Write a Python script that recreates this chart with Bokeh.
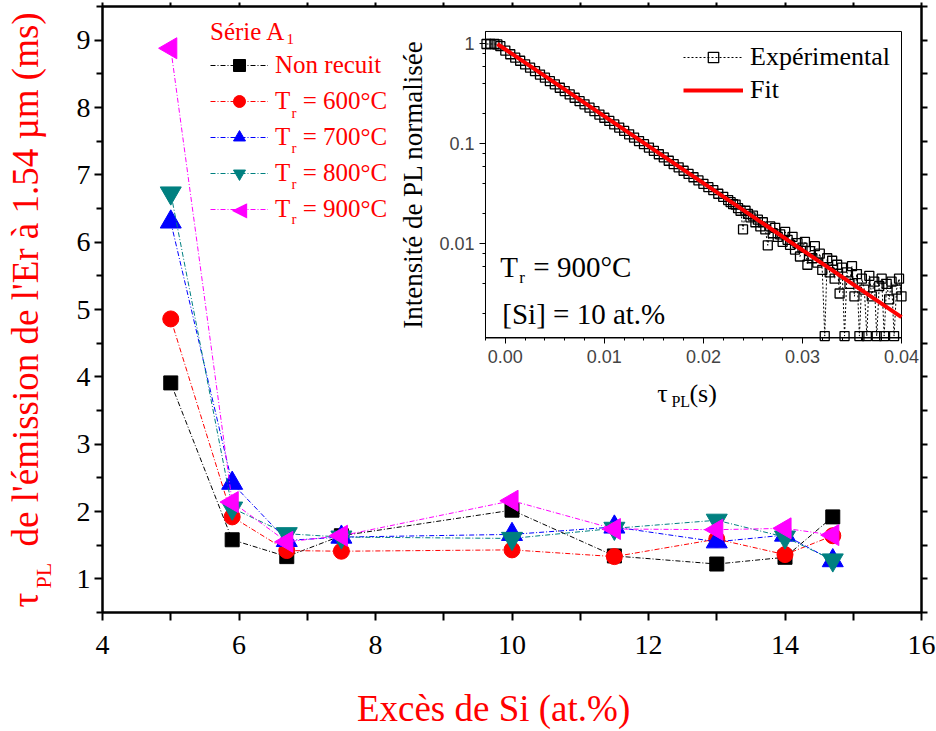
import numpy as np
from bokeh.plotting import figure
from bokeh.models import (Range1d, LogScale, LinearAxis, LogAxis, FixedTicker,
                          LogTicker, NumeralTickFormatter, CustomJSTickFormatter,
                          Legend, LegendItem, Label)
from bokeh.embed import file_html
from bokeh.resources import INLINE

# ---------------- data: main plot ----------------
si_excess = [5.0, 5.9, 6.7, 7.5, 10.0, 11.5, 13.0, 14.0, 14.7]
tau_non_recuit = [3.91, 1.58, 1.33, 1.64, 2.02, 1.34, 1.22, 1.32, 1.92]
tau_600 = [4.86, 1.92, 1.42, 1.41, 1.43, 1.33, 1.59, 1.36, 1.64]
tau_700 = [6.30, 2.42, 1.57, 1.62, 1.66, 1.77, 1.55, 1.65, 1.27]
tau_800 = [6.73, 2.05, 1.67, 1.62, 1.60, 1.75, 1.87, 1.62, 1.28]
tau_900 = [8.88, 2.14, 1.55, 1.64, 2.16, 1.74, 1.73, 1.75, 1.65]
series_labels = ["Non recuit", "T\u00a0\u00a0= 600°C", "T\u00a0\u00a0= 700°C",
                 "T\u00a0\u00a0= 800°C", "T\u00a0\u00a0= 900°C"]
x_major = [4, 6, 8, 10, 12, 14, 16]
x_minor = [5, 7, 9, 11, 13, 15]
y_major = [1, 2, 3, 4, 5, 6, 7, 8, 9]
y_minor = [0.5, 1.5, 2.5, 3.5, 4.5, 5.5, 6.5, 7.5, 8.5, 9.5]

# ---------------- data: inset (PL decay) ----------------
decay_t = [-0.0019, -0.0015, -0.0011, -0.0008, -0.0005,
           0.0, 0.0005, 0.001, 0.0015, 0.002, 0.0025, 0.003, 0.0035, 0.004, 0.0045,
           0.005, 0.0055, 0.006, 0.0065, 0.007, 0.0075, 0.008, 0.0085, 0.009, 0.0095,
           0.01, 0.0105, 0.011, 0.0115, 0.012, 0.0125, 0.013, 0.0135, 0.014, 0.0145,
           0.015, 0.0155, 0.016, 0.0165, 0.017, 0.0175, 0.018, 0.0185, 0.019, 0.0195,
           0.02, 0.0205, 0.021, 0.0215, 0.022,
           0.0225, 0.02275, 0.023, 0.02325, 0.0235, 0.02375, 0.024, 0.02425, 0.0245, 0.02475,
           0.025, 0.02525, 0.0255, 0.02575, 0.026, 0.02625, 0.0265, 0.02675, 0.027, 0.02725,
           0.0275, 0.02775, 0.028, 0.02825, 0.0285, 0.02875, 0.029, 0.02925, 0.0295, 0.02975,
           0.03, 0.03025, 0.0305, 0.03075, 0.031, 0.03125, 0.0315, 0.03175, 0.032, 0.03225,
           0.0325, 0.03275, 0.033, 0.03325, 0.0335, 0.03375, 0.034, 0.03425, 0.0345, 0.03475,
           0.035, 0.03525, 0.0355, 0.03575, 0.036, 0.03625, 0.0365, 0.03675, 0.037, 0.03725,
           0.0375, 0.03775, 0.038, 0.03825, 0.0385, 0.03875, 0.039, 0.03925, 0.0395, 0.03975,
           0.04]
decay_i = [1.0, 1.0, 1.0, 0.99, 0.95,
           0.86, 0.79, 0.73, 0.68, 0.625, 0.58, 0.535, 0.495, 0.46, 0.425,
           0.395, 0.365, 0.338, 0.313, 0.29, 0.268, 0.249, 0.231, 0.213, 0.197,
           0.183, 0.17, 0.157, 0.146, 0.135, 0.125, 0.116, 0.107, 0.0995, 0.092,
           0.0855, 0.079, 0.0735, 0.068, 0.063, 0.0585, 0.054, 0.0502, 0.0465, 0.0432,
           0.04, 0.037, 0.0345, 0.0318, 0.0296,
           0.0275, 0.0262, 0.025, 0.0248, 0.0228, 0.0215, 0.014, 0.0215, 0.02, 0.0185,
           0.0192, 0.0165, 0.0175, 0.015, 0.0165, 0.014, 0.0097, 0.015, 0.0128, 0.0145,
           0.0118, 0.0125, 0.0105, 0.0132, 0.011, 0.0098, 0.0118, 0.0088, 0.0102, 0.0075,
           0.0092, 0.0105, 0.0062, 0.0085, 0.0072, 0.0095, 0.0065, 0.008, 0.0055, 0.0012,
           0.0072, 0.0052, 0.0068, 0.0045, 0.0062, 0.0032, 0.0058, 0.0012, 0.0052, 0.004,
           0.006, 0.003, 0.005, 0.0012, 0.0045, 0.0035, 0.0012, 0.0048, 0.003, 0.0042,
           0.0012, 0.0038, 0.0045, 0.0012, 0.004, 0.0028, 0.0042, 0.0012, 0.0035, 0.0045,
           0.003]
fit_t = [-0.0008, 0.04]
fit_i = [1.0, 0.00186]
inset_x_ticks = [0.0, 0.01, 0.02, 0.03, 0.04]
inset_x_minor = [-0.002, 0.002, 0.004, 0.006, 0.008, 0.012, 0.014, 0.016, 0.018,
                 0.022, 0.024, 0.026, 0.028, 0.032, 0.034, 0.036, 0.038]

# ---------------- figure ----------------
SERIF = "Liberation Serif"
TICKF = "Liberation Sans Narrow"
RED = "#ff0000"

p = figure(width=936, height=731, x_range=Range1d(4, 16), y_range=Range1d(0.5, 9.5),
           output_backend="svg", toolbar_location=None,
           min_border_left=102, min_border_right=15, min_border_top=6, min_border_bottom=119)
p.xgrid.visible = False
p.ygrid.visible = False
p.outline_line_color = "black"
p.outline_line_width = 2
p.background_fill_color = "white"
p.border_fill_color = "white"

def style_axis(ax, size="28px", font=TICKF):
    ax.axis_line_width = 2
    ax.major_tick_line_width = 2
    ax.minor_tick_line_width = 2
    ax.major_tick_in = 0
    ax.minor_tick_in = 0
    ax.major_label_text_font = font
    ax.major_label_text_font_size = size
    ax.major_label_text_color = "black"

xa = p.xaxis[0]
xa.ticker = FixedTicker(ticks=x_major, minor_ticks=x_minor)
style_axis(xa)
xa.major_tick_out = 8
xa.minor_tick_out = 8
xa.major_label_standoff = 15

ya = p.yaxis[0]
ya.ticker = FixedTicker(ticks=y_major, minor_ticks=y_minor)
style_axis(ya)
ya.major_tick_out = 8
ya.minor_tick_out = 6
ya.major_label_standoff = 4

blank = CustomJSTickFormatter(code="return ''")
right_ax = LinearAxis(ticker=FixedTicker(ticks=y_major, minor_ticks=y_minor),
                      formatter=blank, major_label_standoff=0)
style_axis(right_ax, size="1px")
right_ax.major_tick_out = 6
right_ax.minor_tick_out = 6
p.add_layout(right_ax, "right")

top_ax = LinearAxis(ticker=FixedTicker(ticks=x_major, minor_ticks=x_minor),
                    formatter=blank, major_label_standoff=0)
style_axis(top_ax, size="1px")
top_ax.major_tick_out = 4
top_ax.minor_tick_out = 4
p.add_layout(top_ax, "above")

# ---------------- main series ----------------
series = [
    (tau_non_recuit, "black", "square", 14, 0.0),
    (tau_600, "#ff0000", "circle", 16, 0.0),
    (tau_700, "#0000ff", "triangle", 21, 0.0),
    (tau_800, "#008080", "inverted_triangle", 21, 0.0),
    (tau_900, "#ff00ff", "triangle", 21, np.pi / 2),
]
items = []
for (vals, col, mk, sz, ang), lab in zip(series, series_labels):
    lr = p.line(si_excess, vals, line_color=col, line_width=1, line_dash="5 2 1 2")
    sr = p.scatter(si_excess, vals, marker=mk, size=sz, angle=ang,
                   fill_color=col, line_color=col)
    # the legend cannot rotate markers: the left-pointing one is added as a text glyph
    items.append(LegendItem(label=lab, renderers=[lr] if ang else [lr, sr]))

leg = Legend(items=items, location=(108, 388), title="Série A",
             title_text_color=RED, title_text_font=SERIF, title_text_font_size="25px",
             title_text_font_style="normal", title_standoff=4,
             label_text_color=RED, label_text_font=SERIF, label_text_font_size="25px",
             glyph_width=58, glyph_height=30, label_height=30, label_standoff=7,
             spacing=6, padding=0, margin=0, border_line_color=None,
             background_fill_alpha=0)
p.add_layout(leg)

# ---------------- inset ----------------
p.extra_x_ranges = {"ix": Range1d(-0.040668, 0.042019)}
p.extra_y_ranges = {"iy": Range1d(2.065e-6, 2.371)}
p.extra_y_scales = {"iy": LogScale()}

p.quad(left=[-0.002], right=[0.04], bottom=[0.001148], top=[1.334],
       x_range_name="ix", y_range_name="iy",
       fill_color="white", line_color="black", line_width=1)

er = p.line(decay_t, decay_i, x_range_name="ix", y_range_name="iy",
            line_color="black", line_width=1, line_dash="2 2")
es = p.scatter(decay_t, decay_i, x_range_name="ix", y_range_name="iy",
               marker="square", size=9, fill_color="white", fill_alpha=0,
               line_color="black", line_width=1.3)
fr = p.line(fit_t, fit_i, x_range_name="ix", y_range_name="iy",
            line_color=RED, line_width=4)

ileg = Legend(items=[LegendItem(label="Expérimental", renderers=[er, es]),
                     LegendItem(label="Fit", renderers=[fr])],
              location=(581, 507), label_text_font=SERIF, label_text_font_size="26px",
              label_text_color="black", glyph_width=60, glyph_height=26,
              label_height=26, label_standoff=7, spacing=3, padding=0, margin=0,
              border_line_color=None, background_fill_alpha=0)
p.add_layout(ileg)

ixa = LinearAxis(x_range_name="ix", y_range_name="iy", fixed_location=0.001148,
                 bounds=(-0.002, 0.04),
                 ticker=FixedTicker(ticks=inset_x_ticks, minor_ticks=inset_x_minor),
                 formatter=NumeralTickFormatter(format="0.00"))
ixa.axis_line_width = 1
ixa.major_tick_line_width = 1
ixa.minor_tick_line_width = 1
ixa.major_tick_in = 0
ixa.minor_tick_in = 0
ixa.major_tick_out = 6
ixa.minor_tick_out = 3
ixa.major_label_text_font = "Liberation Sans"
ixa.major_label_text_font_size = "18px"
ixa.major_label_standoff = 6
p.add_layout(ixa, "below")

iya = LogAxis(x_range_name="ix", y_range_name="iy", fixed_location=-0.002,
              bounds=(0.001148, 1.334), ticker=LogTicker(),
              formatter=CustomJSTickFormatter(code="return String(Number(tick.toPrecision(4)))"))
iya.axis_line_width = 1
iya.major_tick_line_width = 1
iya.minor_tick_line_width = 1
iya.major_tick_in = 0
iya.minor_tick_in = 0
iya.major_tick_out = 6
iya.minor_tick_out = 3
iya.major_label_text_font = "Liberation Sans"
iya.major_label_text_font_size = "18px"
iya.major_label_standoff = 5
iya.axis_label = "Intensité de PL normalisée"
iya.axis_label_text_font = SERIF
iya.axis_label_text_font_size = "27px"
iya.axis_label_text_font_style = "normal"
iya.axis_label_text_color = "black"
iya.axis_label_standoff = 8
p.add_layout(iya, "left")

# ---------------- text labels ----------------
def lab(text, x, y, size, color=RED, align="left", baseline="alphabetic", angle=0.0,
        xr="default", yr="default", font=SERIF, place="center"):
    p.add_layout(Label(x=x, y=y, text=text, x_range_name=xr, y_range_name=yr,
                       text_font=font, text_font_size=size, text_color=color,
                       text_align=align, text_baseline=baseline, angle=angle), place)

# axis titles (placed in the side panels so that they are not clipped by the frame)
lab("Excès de Si (at.%)", 9.73, -0.93, "37px", align="center", baseline="middle",
    place="below")
lab("τ\u00a0\u00a0\u00a0\u00a0 de l'émission de l'Er à 1.54 µm (ms)", 2.872, 0.574, "37px",
    baseline="middle", angle=np.pi / 2, place="left")
lab("PL", 3.136, 0.8565, "22px", baseline="middle", angle=np.pi / 2, place="left")

# legend subscripts and the left-pointing legend marker
lab("1", 6.696, 9.010, "15px", baseline="middle")
for yy in [7.919, 7.392, 6.864, 6.337]:
    lab("r", 6.769, yy, "15px", baseline="middle")
lab("◀", 6.007, 6.50, "20px", color="#ff00ff", align="center", baseline="middle",
    font="DejaVu Sans")

# inset annotations
lab("T", -0.000505, 0.00586, "29px", color="black", xr="ix", yr="iy")
lab("r", 0.00141, 0.004624, "17px", color="black", xr="ix", yr="iy")
lab("= 900°C", 0.002828, 0.00586, "29px", color="black", xr="ix", yr="iy")
lab("[Si] = 10 at.%", -0.000303, 0.002004, "29px", color="black", xr="ix", yr="iy")
lab("τ", 0.01535, 0.0003199, "26px", color="black", xr="ix", yr="iy")
lab("PL", 0.01677, 0.000266, "16px", color="black", xr="ix", yr="iy")
lab("(s)", 0.01859, 0.0003199, "26px", color="black", xr="ix", yr="iy")

open("out.html", "w").write(file_html(p, INLINE))
